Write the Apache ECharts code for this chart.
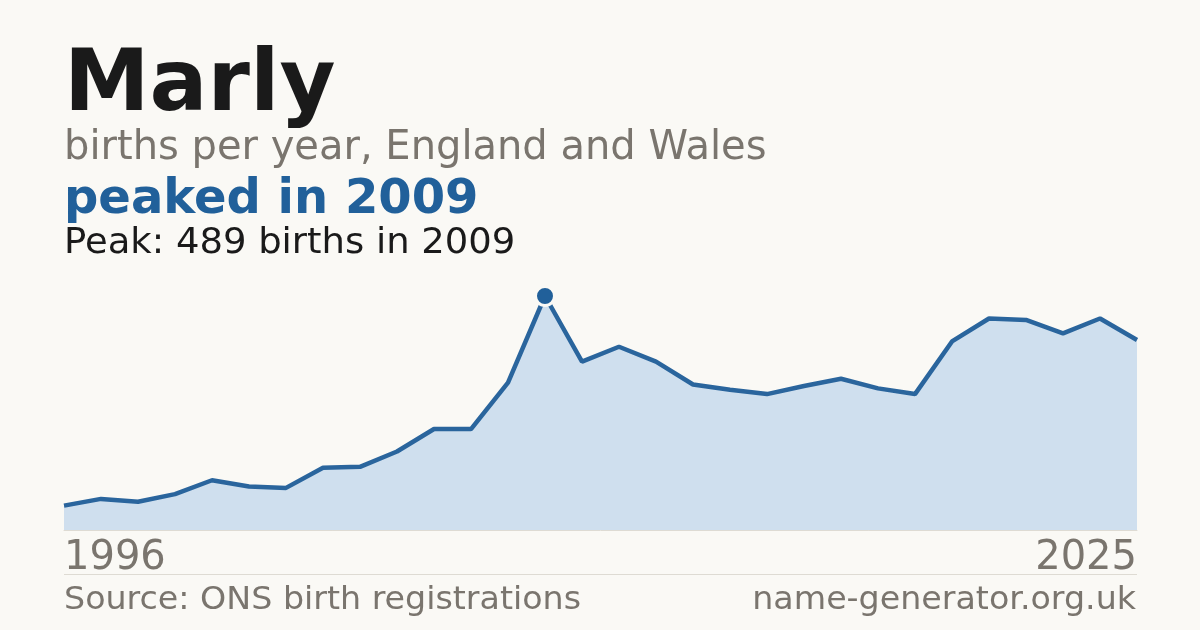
<!DOCTYPE html>
<html>
<head>
<meta charset="utf-8">
<script src="https://cdn.jsdelivr.net/npm/echarts@6/dist/echarts.min.js"></script>
<style>
html,body{margin:0;padding:0;background:#faf9f5;}
#chart{width:1200px;height:630px;}
</style>
</head>
<body>
<div id="chart"></div>
<script>
const years = ['1996','1997','1998','1999','2000','2001','2002','2003','2004','2005','2006','2007','2008','2009','2010','2011','2012','2013','2014','2015','2016','2017','2018','2019','2020','2021','2022','2023','2024','2025'];
const births = [51,65,59,75,104,91,88,130,132,164,211,211,308,489,352,383,352,304,293,284,301,316,296,284,394,442,439,411,442,397];
const titleText = 'Marly';
const subtitleText = 'births per year, England and Wales';
const headlineText = 'peaked in 2009';
const peakText = 'Peak: 489 births in 2009';
const sourceText = 'Source: ONS birth registrations';
const siteText = 'name-generator.org.uk';

const peakVal = Math.max(...births);
const peakIdx = births.indexOf(peakVal);
const peakSeries = births.map((v, i) => i === peakIdx ? v : '-');
const FONT = '"DejaVu Sans", sans-serif';
const GREY = '#7a756e';
const BLUE = '#21609a';
const BG = '#faf9f5';

const chart = echarts.init(document.getElementById('chart'), null, {renderer: 'canvas'});
chart.setOption({
  backgroundColor: BG,
  animation: false,
  grid: {left: 64, right: 63, top: 296, bottom: 100},
  xAxis: {
    type: 'category',
    data: years,
    boundaryGap: false,
    axisLine: {show: true, lineStyle: {color: '#dedbd3', width: 1}},
    axisTick: {show: false},
    splitLine: {show: false},
    axisLabel: {
      interval: (idx) => idx === 0 || idx === years.length - 1,
      alignMinLabel: 'left',
      alignMaxLabel: 'right',
      color: GREY,
      fontFamily: FONT,
      fontSize: 40,
      margin: 9
    }
  },
  yAxis: {
    type: 'value',
    min: 0,
    max: peakVal,
    show: false,
    splitLine: {show: false}
  },
  series: [
    {
      type: 'line',
      data: births,
      showSymbol: false,
      symbol: 'none',
      lineStyle: {color: '#2a659d', width: 4.5},
      areaStyle: {color: '#cfdfee', opacity: 1},
      z: 2
    },
    {
      type: 'scatter',
      data: peakSeries,
      symbol: 'circle',
      symbolSize: 19,
      itemStyle: {color: BLUE, opacity: 1, borderColor: BG, borderWidth: 3},
      emphasis: {disabled: true},
      z: 5
    }
  ],
  graphic: [
    {type: 'text', x: 64, y: 45, style: {text: titleText, font: 'bold 86px ' + FONT, fill: '#1a1a1a', verticalAlign: 'top'}},
    {type: 'text', x: 64, y: 129, style: {text: subtitleText, font: '40px ' + FONT, fill: GREY, verticalAlign: 'top'}},
    {type: 'text', x: 64, y: 177, style: {text: headlineText, font: 'bold 48px ' + FONT, fill: BLUE, verticalAlign: 'top'}},
    {type: 'text', x: 64, y: 226, scaleX: 1.026, style: {text: peakText, font: '36px ' + FONT, fill: '#1a1a1a', verticalAlign: 'top'}},
    {type: 'rect', shape: {x: 64, y: 574, width: 1073, height: 1}, style: {fill: '#dedbd3'}},
    {type: 'text', x: 64, y: 585, scaleX: 1.04, style: {text: sourceText, font: '32px ' + FONT, fill: GREY, verticalAlign: 'top'}},
    {type: 'text', x: 1136, y: 585, scaleX: 1.04, style: {text: siteText, font: '32px ' + FONT, fill: GREY, align: 'right', verticalAlign: 'top'}}
  ]
});
</script>
</body>
</html>
